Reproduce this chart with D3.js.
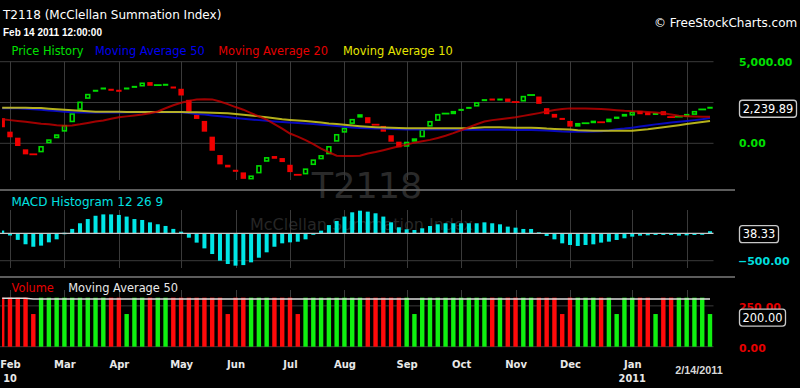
<!DOCTYPE html>
<html><head><meta charset="utf-8">
<script src="https://cdn.jsdelivr.net/npm/d3@7"></script>
<style>html,body{margin:0;padding:0;background:#000;overflow:hidden;} svg{display:block;}</style>
</head><body>
<svg id="c" width="800" height="388"></svg>
<script>
// ---------------- DATA ----------------
const opens = [1537, 713, 344, -369, -670, -554, 0, 307, 713, 1291,
  2048, 2724, 3198, 3321, 3341, 3280, 3321, 3400, 3480, 3750,
  3560, 3525, 3480, 3340, 2663, 1740, 1371, 406, -720, -1316,
  -1623, -1783, -2214, -1845, -1132, -781, -904, -1316, -1925, -1906,
  -1334, -984, -676, 98, 652, 1187, 1574, 1599, 1145, 1064,
  492, 98, -209, 98, 369, 1021, 1371, 1815, 1783, 1986,
  2110, 2251, 2583, 2743, 2645, 2743, 2533, 2558, 2953, 2866,
  2152, 1802, 1556, 1371, 1021, 1225, 1230, 1295, 1291, 1494,
  1636, 1697, 1986, 1906, 1790, 1968, 1610, 1630, 1620, 1740,
  2070, 2150];
const closes = [984, 369, -166, -677, -680, -166, 246, 553, 1125, 1845,
  2558, 3032, 3280, 3419, 3239, 3170, 3419, 3520, 3727, 3525,
  3570, 3647, 3380, 2930, 1943, 1494, 713, -455, -1291, -1476,
  -1747, -2177, -1968, -1335, -843, -947, -1150, -1765, -1935, -1537,
  -984, -720, -166, 572, 959, 1494, 1783, 1230, 1135, 713,
  98, -246, 98, 307, 861, 1371, 1802, 1825, 1986, 2110,
  2232, 2521, 2706, 2645, 2743, 2540, 2523, 2909, 2963, 2417,
  1783, 1574, 1433, 1021, 1248, 1235, 1390, 1285, 1513, 1636,
  1802, 1943, 1783, 1722, 1860, 1722, 1600, 1640, 1802, 1986,
  2080, 2239.89];
const ma50 = [2144, 2144, 2144, 2120, 2090, 2050, 2010, 1975, 1940, 1910,
  1885, 1880, 1880, 1880, 1885, 1890, 1895, 1895, 1900, 1900,
  1900, 1900, 1900, 1895, 1860, 1800, 1760, 1710, 1660, 1610,
  1550, 1500, 1460, 1420, 1380, 1340, 1310, 1280, 1250, 1210,
  1180, 1140, 1100, 1065, 1020, 970, 940, 920, 910, 900,
  880, 860, 850, 850, 850, 850, 850, 850, 850, 830,
  830, 830, 830, 830, 830, 830, 815, 815, 815, 800,
  780, 750, 720, 711, 711, 711, 720, 740, 790, 860,
  900, 960, 1030, 1090, 1160, 1220, 1270, 1320, 1370, 1420,
  1480, 1550];
const ma20 = [1470, 1420, 1370, 1323, 1260, 1200, 1164, 1100, 1078, 1090,
  1164, 1250, 1330, 1400, 1500, 1600, 1650, 1700, 1760, 1840,
  1950, 2150, 2330, 2480, 2600, 2690, 2700, 2690, 2560, 2400,
  2220, 2060, 1850, 1650, 1450, 1180, 900, 600, 410, 200,
  -50, -330, -550, -760, -775, -778, -760, -620, -530, -420,
  -300, -180, -80, 40, 130, 210, 330, 460, 620, 800,
  980, 1170, 1330, 1420, 1480, 1530, 1590, 1680, 1760, 1850,
  1950, 2040, 2100, 2140, 2140, 2130, 2110, 2100, 2070, 2030,
  1990, 1970, 1950, 1920, 1880, 1840, 1760, 1690, 1660, 1640,
  1630, 1630];
const ma10 = [2180, 2180, 2180, 2180, 2170, 2160, 2120, 2080, 2050, 2020,
  2000, 1970, 1940, 1935, 1930, 1930, 1925, 1925, 1925, 1920,
  1920, 1920, 1920, 1918, 1910, 1900, 1890, 1870, 1850, 1838,
  1800, 1750, 1700, 1650, 1590, 1530, 1470, 1430, 1400, 1360,
  1320, 1280, 1220, 1180, 1140, 1090, 1050, 1020, 990, 965,
  950, 930, 920, 920, 920, 920, 920, 920, 920, 920,
  920, 960, 980, 980, 980, 970, 960, 960, 960, 940,
  900, 880, 860, 840, 800, 780, 770, 770, 770, 770,
  770, 772, 810, 858, 920, 985, 1050, 1110, 1180, 1240,
  1300, 1366];
const macdHist = [50, -40, -120, -200, -245, -225, -165, -110, 10, 80,
  183, 260, 320, 345, 345, 335, 305, 260, 243, 200,
  165, 134, 80, 30, -80, -170, -275, -378, -500, -560,
  -590, -580, -530, -445, -347, -245, -183, -165, -153, -110,
  -10, 48, 150, 225, 305, 383, 413, 395, 365, 305,
  200, 110, 73, 60, 91, 133, 164, 183, 183, 183,
  183, 183, 200, 183, 164, 122, 103, 79, 79, 18,
  -49, -110, -183, -213, -231, -213, -201, -170, -152, -122,
  -91, -61, -43, -37, -30, -30, -30, -43, -37, -30,
  -18, 38.33];
const volume = [300, 300, 300, 300, 200, 300, 300, 300, 300, 300,
  300, 300, 300, 300, 300, 300, 200, 300, 300, 300,
  300, 300, 300, 300, 300, 300, 300, 300, 300, 200,
  300, 300, 300, 300, 300, 300, 300, 300, 200, 300,
  300, 300, 300, 300, 300, 300, 300, 300, 300, 300,
  300, 300, 300, 200, 300, 300, 300, 300, 300, 300,
  300, 300, 300, 300, 300, 300, 300, 300, 300, 300,
  300, 300, 200, 300, 300, 300, 300, 300, 300, 200,
  300, 300, 300, 300, 200, 300, 300, 300, 300, 300,
  300, 200];
const volumeMA50 = [297, 297, 297, 297, 292, 292, 292, 292, 292, 292,
  292, 292, 292, 292, 292, 292, 292, 292, 292, 292,
  292, 292, 292, 292, 292, 292, 292, 292, 292, 292,
  292, 292, 292, 292, 292, 292, 292, 292, 292, 292,
  292, 292, 292, 292, 292, 292, 292, 292, 292, 292,
  292, 292, 292, 292, 292, 292, 292, 292, 292, 292,
  292, 292, 292, 292, 292, 292, 292, 292, 292, 292,
  292, 292, 292, 292, 292, 292, 292, 292, 292, 292,
  292, 292, 292, 292, 292, 292, 292, 292, 292, 292,
  292, 292];
const monthTickIdx = [1, 8, 15, 23, 30, 37, 44, 52, 59, 66, 73, 81, 88];
const monthLabels = ["Feb", "Mar", "Apr", "May", "Jun", "Jul", "Aug", "Sep", "Oct", "Nov", "Dec", "Jan", ""];
const yearLabels = [{idx: 1, text: "10"}, {idx: 81, text: "2011"}];
const priceTicks = [0, 2500, 5000];
const priceLabelTicks = [0, 5000];
const macdTicks = [-500, 0];
const macdLabelTicks = [-500];
const volTicks = [0, 250];
const lastDateLabel = "2/14/2011";

// ---------------- SETUP ----------------
const svg = d3.select("#c");
const FONT = "'DejaVu Sans', Verdana, sans-serif";
const ARIAL = "'Liberation Sans', Arial, sans-serif";
const N = closes.length;
const x = d3.scaleLinear().domain([0, N - 1]).range([2.2, 710]);
const yP = d3.scaleLinear().domain([0, 5000]).range([143.3, 61.7]);
const yM = d3.scaleLinear().domain([-500, 0]).range([260.7, 233.3]);
const yV = d3.scaleLinear().domain([0, 300]).range([346.7, 297.7]);
const fmt = d3.format(",.2f");
const PLOT_R = 713.5;

const GREEN = "#00dc00", RED = "#f00000", GRID = "#3a3a3a";

svg.append("rect").attr("width", 800).attr("height", 388).attr("fill", "#000");

svg.append("defs").append("clipPath").attr("id", "plot")
  .append("rect").attr("x", 2).attr("y", 0).attr("width", PLOT_R - 2).attr("height", 388);

// watermark
svg.append("text").attr("x", 367).attr("y", 198).attr("text-anchor", "middle")
  .attr("font-family", FONT).attr("font-size", 35).attr("fill", "#2a2a2a").text("T2118");
svg.append("text").attr("x", 250).attr("y", 229.5)
  .attr("font-family", FONT).attr("font-size", 16).attr("fill", "#262626").text("McClellan Summation Index");

// ---------------- GRIDLINES ----------------
const grid = svg.append("g").attr("stroke", GRID).attr("stroke-width", 1);
grid.selectAll("line.hp").data(priceTicks).join("line")
  .attr("x1", 0).attr("x2", PLOT_R).attr("y1", d => yP(d)).attr("y2", d => yP(d));
grid.selectAll("line.vp").data(monthTickIdx).join("line").attr("class", "vp")
  .attr("x1", d => Math.round(x(d)) + 0.5).attr("x2", d => Math.round(x(d)) + 0.5)
  .attr("y1", 61.5).attr("y2", 180);
grid.append("g").selectAll("line").data(monthTickIdx).join("line")
  .attr("x1", d => Math.round(x(d)) + 0.5).attr("x2", d => Math.round(x(d)) + 0.5)
  .attr("y1", 210).attr("y2", 268);
grid.append("g").selectAll("line").data(monthTickIdx).join("line")
  .attr("x1", d => Math.round(x(d)) + 0.5).attr("x2", d => Math.round(x(d)) + 0.5)
  .attr("y1", 290).attr("y2", 347);
grid.append("line").attr("x1", 0).attr("x2", PLOT_R).attr("y1", yM(-500)).attr("y2", yM(-500));
grid.selectAll("line.hv").data(volTicks).join("line")
  .attr("x1", 0).attr("x2", PLOT_R).attr("y1", d => yV(d)).attr("y2", d => yV(d));

// separators
svg.selectAll("line.sep").data([190, 277]).join("line")
  .attr("x1", 0).attr("x2", 735).attr("y1", d => d).attr("y2", d => d)
  .attr("stroke", "#5c5c5c").attr("stroke-width", 2);

// ---------------- PRICE PANEL ----------------
const plot = svg.append("g").attr("clip-path", "url(#plot)");
const bodyW = 5.4, stepW = x(1) - x(0);
const candles = plot.append("g");
d3.range(N).forEach(i => {
  const o = opens[i], c = closes[i];
  const up = c >= o;
  const col = up ? GREEN : RED;
  const doji = Math.abs(c - o) <= 15;
  const top = yP(Math.max(o, c)), bot = yP(Math.min(o, c));
  if (doji) {
    const ym = (top + bot) / 2;
    candles.append("rect").attr("x", x(i) - stepW / 2).attr("y", ym - 0.9)
      .attr("width", stepW).attr("height", 1.8).attr("fill", col);
  } else if (bot - top < 4 || !up) {
    candles.append("rect").attr("x", x(i) - bodyW / 2).attr("y", top)
      .attr("width", bodyW).attr("height", Math.max(2, bot - top)).attr("fill", col);
  } else {
    candles.append("rect").attr("x", x(i) - bodyW / 2 + 0.8).attr("y", top + 0.8)
      .attr("width", bodyW - 1.6).attr("height", bot - top - 1.6)
      .attr("fill", "none").attr("stroke", col).attr("stroke-width", 1.6);
  }
});

const lineGen = (ys) => d3.line().x((d, i) => x(i)).y(d => ys(d));
plot.append("path").datum(ma50).attr("d", lineGen(yP)).attr("fill", "none")
  .attr("stroke", "#0a0ad2").attr("stroke-width", 2).attr("opacity", 0.9);
plot.append("path").datum(ma10).attr("d", lineGen(yP)).attr("fill", "none")
  .attr("stroke", "#c8c31e").attr("stroke-width", 2).attr("opacity", 0.9);
plot.append("path").datum(ma20).attr("d", lineGen(yP)).attr("fill", "none")
  .attr("stroke", "#c80000").attr("stroke-width", 2).attr("opacity", 0.8);

// ---------------- MACD PANEL ----------------
plot.append("g").selectAll("rect").data(macdHist).join("rect")
  .attr("x", (d, i) => x(i) - 2).attr("width", 4)
  .attr("y", d => Math.min(yM(d), yM(0)))
  .attr("height", d => Math.max(1.5, Math.abs(yM(d) - yM(0))))
  .attr("fill", "#00e6e6");
svg.append("line").attr("x1", 0).attr("x2", PLOT_R).attr("y1", yM(0)).attr("y2", yM(0))
  .attr("stroke", "#c8c8c8").attr("stroke-width", 1.2);

// ---------------- VOLUME PANEL ----------------
plot.append("g").selectAll("rect").data(volume).join("rect")
  .attr("x", (d, i) => x(i) - 2.2).attr("width", 4.4)
  .attr("y", d => yV(d)).attr("height", d => yV(0) - yV(d))
  .attr("fill", (d, i) => closes[i] >= opens[i] ? "#10f010" : "#ff0a0a");
plot.append("path").datum(volumeMA50).attr("d", lineGen(yV)).attr("fill", "none")
  .attr("stroke", "#dcdcdc").attr("stroke-width", 1.6);

// ---------------- AXES ----------------
function styleAxis(g, color, size, weight, family) {
  g.select(".domain").remove();
  g.selectAll("line").remove();
  g.attr("font-family", null).attr("font-size", null);
  g.selectAll("text").attr("fill", color).attr("font-size", size)
    .attr("font-weight", weight).attr("font-family", family || FONT);
}
svg.append("g").attr("transform", "translate(739,0)")
  .call(d3.axisRight(yP).tickValues(priceLabelTicks).tickFormat(fmt).tickSize(0).tickPadding(0))
  .call(g => styleAxis(g, "#00e000", 10.8, "bold"));
svg.append("g").attr("transform", "translate(738,0)")
  .call(d3.axisRight(yM).tickValues(macdLabelTicks).tickFormat(fmt).tickSize(0).tickPadding(0))
  .call(g => styleAxis(g, "#00dede", 11, "bold"));
svg.append("g").attr("transform", "translate(739,1.5)")
  .call(d3.axisRight(yV).tickValues(volTicks).tickFormat(fmt).tickSize(0).tickPadding(0))
  .call(g => styleAxis(g, "#e60000", 10.8, "bold"));

svg.append("g").attr("transform", "translate(0,358)")
  .call(d3.axisBottom(x).tickValues(monthTickIdx).tickFormat((d, i) => monthLabels[i]).tickSize(0).tickPadding(3))
  .call(g => styleAxis(g, "#e8e8e8", 10, "bold"));

svg.selectAll("text.yr").data(yearLabels).join("text").attr("class", "yr")
  .attr("x", d => x(d.idx)).attr("y", 382).attr("text-anchor", "middle")
  .attr("font-family", FONT).attr("font-size", 9.8).attr("font-weight", "bold")
  .attr("fill", "#e8e8e8").text(d => d.text);
svg.append("text").attr("x", 699).attr("y", 374).attr("text-anchor", "middle")
  .attr("font-family", ARIAL).attr("font-size", 10.8).attr("font-weight", "bold")
  .attr("fill", "#d8d8d8").text(lastDateLabel);

// value boxes
function valueBox(yc, text, w) {
  const g = svg.append("g");
  g.append("rect").attr("x", 739.5).attr("y", yc - 8.5).attr("width", w).attr("height", 17)
    .attr("rx", 3).attr("fill", "#000").attr("stroke", "#c8c8c8").attr("stroke-width", 1.3);
  g.append("text").attr("x", 739.5 + w / 2).attr("y", yc + 4.2).attr("text-anchor", "middle")
    .attr("font-family", FONT).attr("font-size", 11.4).attr("fill", "#fff").text(text);
}
valueBox(yP(closes[N - 1]) + 2, fmt(closes[N - 1]), 57);
valueBox(yM(macdHist[N - 1]) + 3, fmt(macdHist[N - 1]), 39);
valueBox(yV(volume[N - 1]) + 3.5, fmt(volume[N - 1]), 46);

// ---------------- TITLES / LEGENDS ----------------
svg.append("text").attr("x", 3).attr("y", 18.5).attr("font-family", FONT).attr("font-size", 12)
  .attr("fill", "#fff").text("T2118 (McClellan Summation Index)");
svg.append("text").attr("x", 3).attr("y", 35.7).attr("font-family", ARIAL).attr("font-size", 10)
  .attr("font-weight", "bold").attr("fill", "#fff").text("Feb 14 2011 12:00:00");
svg.append("text").attr("x", 654).attr("y", 26.7).attr("font-family", FONT).attr("font-size", 12)
  .attr("fill", "#fff").text("© FreeStockCharts.com");

const legend = [
  {t: "Price History", c: "#00e000", x: 11.5},
  {t: "Moving Average 50", c: "#0000f0", x: 95},
  {t: "Moving Average 20", c: "#e60000", x: 218.3},
  {t: "Moving Average 10", c: "#e6e600", x: 343}
];
svg.selectAll("text.lg").data(legend).join("text").attr("class", "lg")
  .attr("x", d => d.x).attr("y", 54.5).attr("font-family", FONT).attr("font-size", 11.4)
  .attr("fill", d => d.c).text(d => d.t);

svg.append("text").attr("x", 11.5).attr("y", 206).attr("font-family", FONT).attr("font-size", 12)
  .attr("fill", "#00e0e0").text("MACD Histogram 12 26 9");
svg.append("text").attr("x", 11.5).attr("y", 292).attr("font-family", FONT).attr("font-size", 11.4)
  .attr("fill", "#e60000").text("Volume");
svg.append("text").attr("x", 68.3).attr("y", 292).attr("font-family", FONT).attr("font-size", 11.4)
  .attr("fill", "#e8e8e8").text("Moving Average 50");
</script>
</body></html>
